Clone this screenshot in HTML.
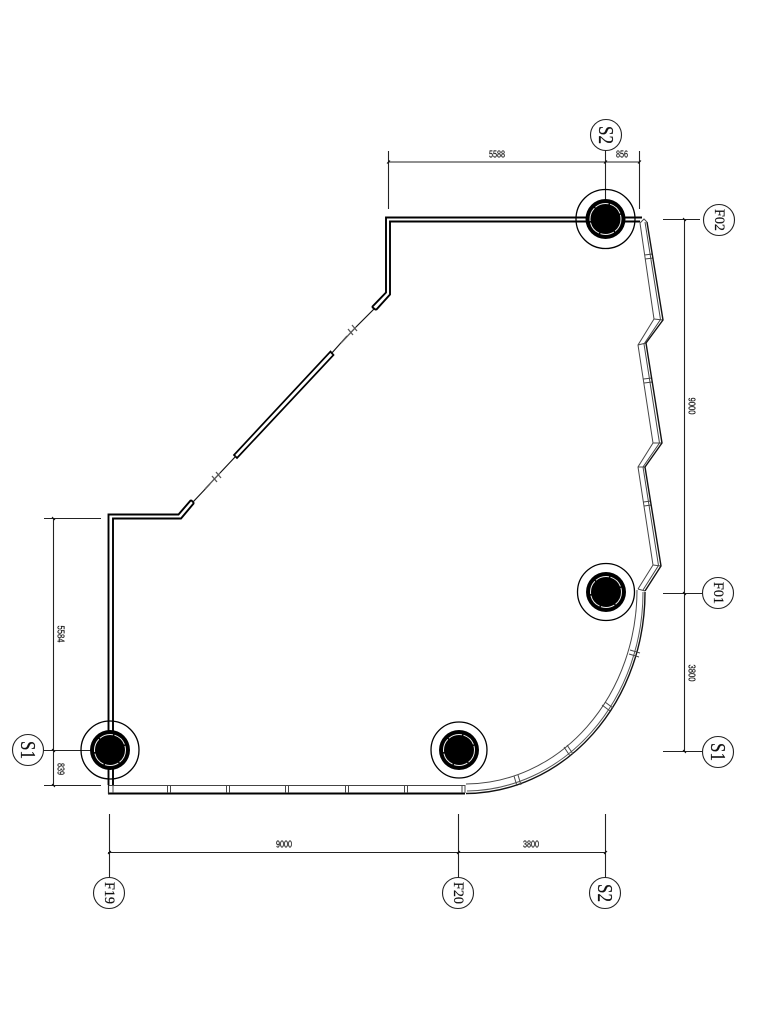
<!DOCTYPE html>
<html>
<head>
<meta charset="utf-8">
<style>
html,body{margin:0;padding:0;background:#fff}
svg{display:block;filter:blur(0.35px)}
text{font-family:"Liberation Serif",serif;fill:#111;stroke:#111;stroke-width:.2px;text-anchor:middle;dominant-baseline:central}
.d{font-size:10px;font-family:"Liberation Sans",sans-serif}
.b{font-size:15px}
.s{font-size:21px}
</style>
</head>
<body>
<svg width="768" height="1024" viewBox="0 0 768 1024" xmlns="http://www.w3.org/2000/svg">
<rect width="768" height="1024" fill="#fff"/>

<!-- dimension lines -->
<g stroke="#222" stroke-width="1.1" fill="none">
<path d="M388.5 151V209M639.5 151V209M388 162H640M605.5 150V218"/>
<path d="M663 219.5H700M684.5 219V752M663 593.5H703M663 751.5H703"/>
<path d="M109.5 814V878M458.5 814V878M605.5 814V878M108 852.5H606"/>
<path d="M53.5 518V786M44 518.5H101M44 785.5H101M43 750.5H110"/>
</g>
<g stroke="#111" stroke-width="1.1" fill="none">
<path d="M387 163.5L390 160.5M604 163.5L607 160.5M638 163.5L641 160.5M108 854L111 851M457 854L460 851M604 854L607 851"/>
<path d="M52 517L55 520M52 749L55 752M52 784L55 787M683 218L686 221M683 592L686 595M683 750L686 753"/>
</g>

<!-- bubbles -->
<g fill="#fff" stroke="#222" stroke-width="1.1">
<circle cx="606" cy="135" r="15.5"/>
<circle cx="719" cy="220" r="15.5"/>
<circle cx="718" cy="593" r="15.5"/>
<circle cx="718" cy="752" r="15.5"/>
<circle cx="458" cy="893" r="15.5"/>
<circle cx="605" cy="893" r="15.5"/>
<circle cx="109" cy="893" r="15.5"/>
<circle cx="28" cy="750" r="15.5"/>
</g>
<text class="s" transform="translate(606 135) rotate(90)" textLength="18" lengthAdjust="spacingAndGlyphs">S2</text>
<text class="b" transform="translate(719 220) rotate(90)" textLength="22" lengthAdjust="spacingAndGlyphs">F02</text>
<text class="b" transform="translate(718 593) rotate(90)" textLength="22" lengthAdjust="spacingAndGlyphs">F01</text>
<text class="s" transform="translate(718 752) rotate(90)" textLength="18" lengthAdjust="spacingAndGlyphs">S1</text>
<text class="b" transform="translate(458 893) rotate(90)" textLength="22" lengthAdjust="spacingAndGlyphs">F20</text>
<text class="s" transform="translate(605 893) rotate(90)" textLength="18" lengthAdjust="spacingAndGlyphs">S2</text>
<text class="b" transform="translate(109 893) rotate(90)" textLength="22" lengthAdjust="spacingAndGlyphs">F19</text>
<text class="s" transform="translate(28 750) rotate(90)" textLength="18" lengthAdjust="spacingAndGlyphs">S1</text>

<!-- dimension text -->
<text class="d" x="497" y="155" textLength="16" lengthAdjust="spacingAndGlyphs">5588</text>
<text class="d" x="622" y="155" textLength="12" lengthAdjust="spacingAndGlyphs">856</text>
<text class="d" transform="translate(691 406) rotate(90)" textLength="17" lengthAdjust="spacingAndGlyphs">9000</text>
<text class="d" transform="translate(691 673) rotate(90)" textLength="17" lengthAdjust="spacingAndGlyphs">3800</text>
<text class="d" x="284" y="845" textLength="16" lengthAdjust="spacingAndGlyphs">9000</text>
<text class="d" x="531" y="845" textLength="16" lengthAdjust="spacingAndGlyphs">3800</text>
<text class="d" transform="translate(60 634) rotate(90)" textLength="17" lengthAdjust="spacingAndGlyphs">5584</text>
<text class="d" transform="translate(60 769) rotate(90)" textLength="12" lengthAdjust="spacingAndGlyphs">839</text>

<!-- solid walls -->
<g fill="none" stroke="#000" stroke-width="1.9">
<path d="M642 217.5H386V292.5L372 307"/>
<path d="M640 221.5H390V294.5L376 310"/>
<path d="M108.5 785V514.5H178.5L191 500"/>
<path d="M113 785V518.5H181L194 503"/>
<path d="M372 307L376 310M191 500L194 503"/>
</g>

<!-- window strip -->
<g fill="#fff" stroke="#000" stroke-width="1.7">
<path d="M234 455L237 458L333.5 355L330.5 351.5Z"/>
</g>
<g fill="none" stroke="#111" stroke-width="1.2">
<path d="M374 309L356 327"/>
<path d="M331 354L347 336"/>
<path d="M236 456L220 473"/>
<path d="M210 484L193 502"/>
</g>
<g fill="none" stroke="#555" stroke-width="1.3">
<path d="M356 327L341 343M220 473L205 489"/>
<path d="M348 329L353 335M352 325L357 331M212 476L217 482M216 472L221 478"/>
</g>

<!-- glazed facade right -->
<g fill="none" stroke="#444" stroke-width="1">
<path d="M640 223L654 319L638 345L653 443L638 467L653 565L638 589"/>
<path d="M640 223L644 219L647 222M654 319L663 320M638 345L646 343M653 443L662 443M638 467L645 467M653 565L661 566M638 589L645 591"/>
<path d="M645 222L660.5 319.5L644 344L659.5 443L643 467L658.5 565.5L643 590"/>
<path d="M644.5 255L652.5 254M645 259L653.5 258M643.5 379L652 378M644 383L652.5 382M643.5 502L651 501M644 506L651.5 505"/>
</g>
<g fill="none" stroke="#111" stroke-width="1.4">
<path d="M647 222L663 320L646 343L662 443L645 467L661 566L645 591"/>
</g>

<!-- curved facade -->
<g fill="none">
<path d="M637 590A172 194 0 0 1 466 784" stroke="#444" stroke-width="1"/>
<path d="M643 592A178 199 0 0 1 467 791" stroke="#555" stroke-width="1"/>
<path d="M645 592A180 201 0 0 1 466 793.5" stroke="#111" stroke-width="1.4"/>
<g stroke="#444" stroke-width="1">
<path d="M630 650L640 653M629 654L639 657"/>
<path d="M605 702L613 708M602 705L610 711"/>
<path d="M567 745L573 754M564 747L570 756"/>
<path d="M518 775L521 785M514 776L517 786"/>
</g>
</g>

<!-- bottom facade -->
<g fill="none">
<path d="M108.5 785.5H465" stroke="#444" stroke-width="1"/>
<path d="M108 793.5H465" stroke="#000" stroke-width="1.9"/>
<path d="M108.5 785V794" stroke="#222" stroke-width="1.2"/>
<g stroke="#444" stroke-width="1">
<path d="M113 785V793M167.5 785V793M170.5 785V793M226.5 785V793M229.5 785V793M285.5 785V793M288.5 785V793M345.5 785V793M348.5 785V793M404.5 785V793M407.5 785V793M462 785V793M465 785V793"/>
</g>
</g>

<!-- columns -->
<g>
<g fill="none" stroke="#000" stroke-width="1.3">
<circle cx="605.5" cy="219" r="29.5"/>
<circle cx="606" cy="592" r="28.5"/>
<circle cx="459" cy="750" r="28"/>
<circle cx="110" cy="750" r="29"/>
</g>
<g fill="#000">
<circle cx="605.5" cy="219" r="20"/>
<circle cx="606" cy="592" r="20"/>
<circle cx="459" cy="750" r="20"/>
<circle cx="110" cy="750" r="20"/>
</g>
<g fill="none" stroke="#eee" stroke-width="1" stroke-dasharray="14 1.5">
<circle cx="605.5" cy="219" r="15.5"/>
<circle cx="606" cy="592" r="15.5"/>
<circle cx="459" cy="750" r="15.5"/>
<circle cx="110" cy="750" r="15.5"/>
</g>
</g>
</svg>
</body>
</html>
